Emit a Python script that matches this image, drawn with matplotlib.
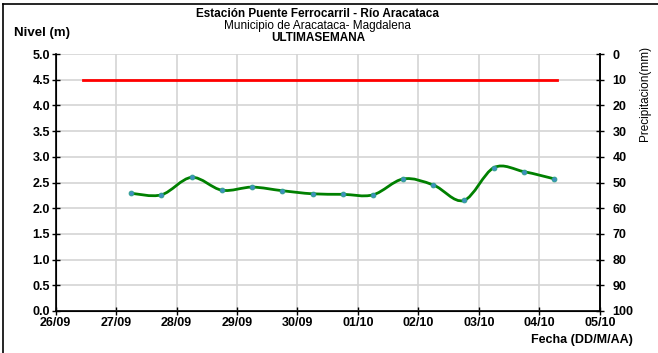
import matplotlib
matplotlib.use("Agg")
import matplotlib.pyplot as plt
from matplotlib.path import Path
from matplotlib.patches import PathPatch
from matplotlib.lines import Line2D

plt.rcParams['font.family'] = ['Liberation Sans', 'DejaVu Sans']

# Data (days after 26/09, level in m)
day_labels = ["26/09", "27/09", "28/09", "29/09", "30/09", "01/10",
              "02/10", "03/10", "04/10", "05/10"]
hours = [1.25, 1.75, 2.25, 2.75, 3.25, 3.75, 4.25, 4.75,
         5.25, 5.75, 6.25, 6.75, 7.25, 7.75, 8.25]
nivel = [2.29, 2.26, 2.60, 2.35, 2.41, 2.34, 2.28, 2.27,
         2.26, 2.57, 2.45, 2.15, 2.79, 2.71, 2.57]
alerta_x = [0.45, 8.3]
alerta_nivel = [4.5, 4.5]


def smooth_path(xs, ys):
    # Excel style smoothed line: cubic bezier segments through the points
    pts = list(zip(xs, ys))
    verts = [pts[0]]
    codes = [Path.MOVETO]
    n = len(pts)
    for i in range(n - 1):
        p0 = pts[i - 1] if i > 0 else pts[i]
        p1 = pts[i]
        p2 = pts[i + 1]
        p3 = pts[i + 2] if i + 2 < n else pts[i + 1]
        c1 = (p1[0] + (p2[0] - p0[0]) / 6, p1[1] + (p2[1] - p0[1]) / 6)
        c2 = (p2[0] - (p3[0] - p1[0]) / 6, p2[1] - (p3[1] - p1[1]) / 6)
        verts += [c1, c2, p2]
        codes += [Path.CURVE4] * 3
    return Path(verts, codes)


fig = plt.figure(figsize=(6.58, 3.53), dpi=100)
ax = fig.add_axes([0.0845, 0.119, 0.827, 0.728])

ax.set_xlim(0, 9)
ax.set_ylim(0, 5)
ax.set_xticks(range(10))
ax.set_xticklabels(day_labels)
ax.set_yticks([i * 0.5 for i in range(11)])
ax.set_yticklabels([f"{i * 0.5:.1f}" for i in range(11)])
ax.grid(True, color="#d4d4d4", linewidth=1.2)
ax.set_axisbelow(True)

for s in ["left", "right", "bottom"]:
    ax.spines[s].set_color("black")
    ax.spines[s].set_linewidth(1.2)
ax.spines["top"].set_visible(False)
ax.tick_params(direction="inout", length=6, width=1, labelsize=9, pad=1)
for lbl in ax.get_xticklabels() + ax.get_yticklabels():
    lbl.set_fontweight("bold")

ax.plot(alerta_x, alerta_nivel, color="#ff0000", linewidth=2)
ax.add_patch(PathPatch(smooth_path(hours, nivel), facecolor="none",
                       edgecolor="#008000", linewidth=2, zorder=3))
ax.plot(hours, nivel, linestyle="none", marker="o", markersize=3.5,
        color="#3f8fc0", markeredgecolor="#2aa08a", markeredgewidth=0.6, zorder=4)

ax2 = ax.twinx()
ax2.set_ylim(100, 0)
ax2.set_yticks(range(0, 101, 10))
ax2.spines["top"].set_visible(False)
ax2.spines["right"].set_linewidth(1.2)
ax2.tick_params(direction="inout", length=6, width=1, labelsize=9, pad=6)
for lbl in ax2.get_yticklabels():
    lbl.set_fontweight("bold")

fig.text(0.483, 0.96, "Estación Puente Ferrocarril - Río Aracataca",
         ha="center", va="center", fontsize=8.5, fontweight="bold")
fig.text(0.483, 0.925, "Municipio de Aracataca- Magdalena",
         ha="center", va="center", fontsize=8.5)
fig.text(0.483, 0.892, "ULTIMASEMANA",
         ha="center", va="center", fontsize=8.5, fontweight="bold")
fig.text(0.021, 0.906, "Nivel (m)", ha="left", va="center",
         fontsize=9.5, fontweight="bold")
fig.text(0.981, 0.87, "Precipitacion(mm)", ha="center", va="top",
         rotation=90, fontsize=8.5)
fig.text(0.962, 0.037, "Fecha (DD/M/AA)", ha="right", va="center",
         fontsize=9, fontweight="bold")

# outer frame (top and left edges visible)
fig.add_artist(Line2D([0.004, 1.0], [0.988, 0.988], color="black", linewidth=1.2))
fig.add_artist(Line2D([0.004, 0.004], [0.0, 0.988], color="black", linewidth=1.2))

fig.savefig("out.png", dpi=100)
